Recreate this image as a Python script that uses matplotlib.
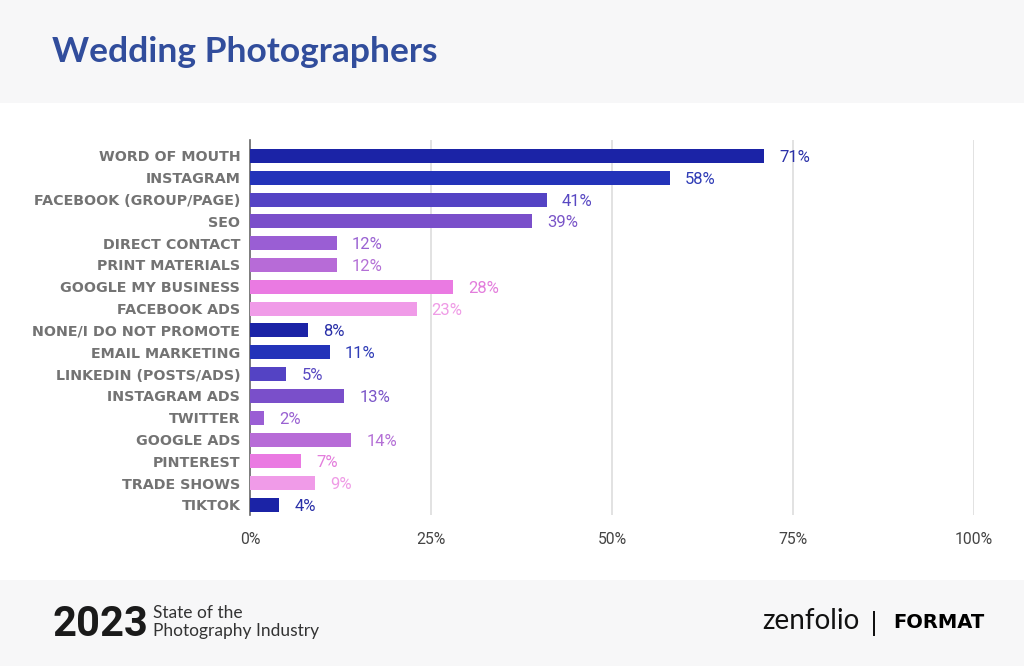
import matplotlib.pyplot as plt
from matplotlib.patches import Rectangle

# --- data ---
categories = [
    "WORD OF MOUTH", "INSTAGRAM", "FACEBOOK (GROUP/PAGE)", "SEO",
    "DIRECT CONTACT", "PRINT MATERIALS", "GOOGLE MY BUSINESS", "FACEBOOK ADS",
    "NONE/I DO NOT PROMOTE", "EMAIL MARKETING", "LINKEDIN (POSTS/ADS)",
    "INSTAGRAM ADS", "TWITTER", "GOOGLE ADS", "PINTEREST", "TRADE SHOWS", "TIKTOK",
]
values = [71, 58, 41, 39, 12, 12, 28, 23, 8, 11, 5, 13, 2, 14, 7, 9, 4]
ticks = [0, 25, 50, 75, 100]
tick_labels = ["0%", "25%", "50%", "75%", "100%"]
palette = ["#1b23a6", "#2333b9", "#5443c4", "#7a4fca", "#9a5ed4",
           "#b76bd7", "#ea7ae2", "#f09be8"]
label_colors = ["#2a30a8", "#2f3cb6", "#5848c2", "#7a55c8", "#9a62d2",
                "#b470d6", "#e37ddc", "#ef9be6"]

W, H = 1024, 666
fig = plt.figure(figsize=(W / 100, H / 100), dpi=100)
fig.patch.set_facecolor("white")

# header / footer bands
fig.patches.append(Rectangle((0, 1 - 103 / H), 1, 103 / H, transform=fig.transFigure,
                             facecolor="#f7f7f8", edgecolor="none", zorder=0))
fig.patches.append(Rectangle((0, 0), 1, 86 / H, transform=fig.transFigure,
                             facecolor="#f7f7f8", edgecolor="none", zorder=0))

fig.text(52 / W, 1 - 52 / H, "Wedding Photographers", fontsize=25.5, fontweight="bold",
         color="#314d9c", family="Lato", va="center", ha="left")

# --- chart ---
ax = fig.add_axes([250 / W, 1 - 515 / H, 724 / W, 375 / H])
ax.set_facecolor("none")
ypos = list(range(len(categories)))
colors = [palette[i % len(palette)] for i in ypos]
ax.barh(ypos, values, height=0.64, color=colors, zorder=3)

for i, v in enumerate(values):
    ax.text(v + 2.1, i, f"{v}%", va="center_baseline", ha="left", fontsize=12,
            color=label_colors[i % len(label_colors)], family="Roboto", zorder=4)

ax.set_xlim(0, 100)
ax.set_ylim(16.46, -0.73)
ax.set_xticks(ticks)
ax.set_xticklabels(tick_labels, family="Roboto", fontsize=11.3, color="#444444")
ax.set_yticks(ypos)
ax.set_yticklabels(categories, family="DejaVu Sans", fontsize=10.3, fontweight="bold",
                   color="#737373")
ax.tick_params(axis="y", length=0, pad=7)
ax.tick_params(axis="x", length=0, pad=12)
for t in ticks[1:]:
    ax.axvline(t, color="#dddddd", lw=1.2, zorder=1)
for s in ["top", "right", "bottom"]:
    ax.spines[s].set_visible(False)
ax.spines["left"].set_color("#666666")
ax.spines["left"].set_linewidth(1.2)

# --- footer ---
fig.text(52 / W, 1 - 625 / H, "2023", fontsize=30, fontweight="bold", color="#1a1a1a",
         family="Roboto", va="center", ha="left")
fig.text(153 / W, 1 - 622 / H, "State of the\nPhotography Industry", fontsize=12.5,
         color="#333333", family="Lato", va="center", ha="left", linespacing=1.1)
fig.text(762 / W, 1 - 621 / H, "zenfolio", fontsize=20, color="#111111",
         family="Lato", va="center", ha="left")
fig.text(874 / W, 1 - 623 / H, "|", fontsize=17, color="#111111",
         family="DejaVu Sans", va="center", ha="center")
fig.text(893 / W, 1 - 623 / H, "FORMAT", fontsize=14, color="#000000",
         family="DejaVu Sans", fontweight="heavy", va="center", ha="left")

fig.savefig("out.png", dpi=100, facecolor=fig.get_facecolor())
